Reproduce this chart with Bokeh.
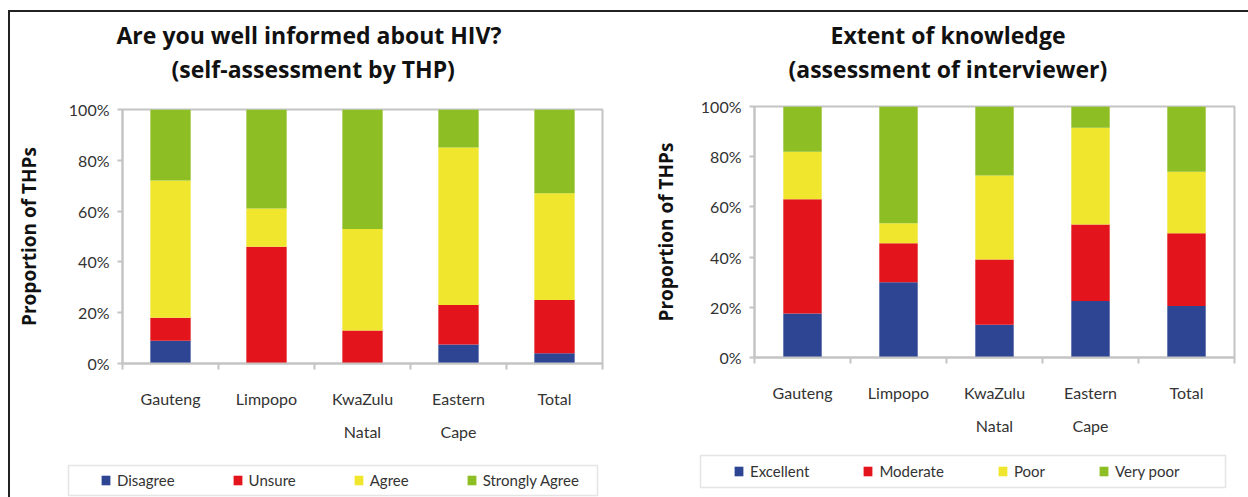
from bokeh.plotting import figure
from bokeh.layouts import row, column
from bokeh.models import (ColumnDataSource, Range1d, LinearAxis, FixedTicker, NumeralTickFormatter,
                          Legend, LegendItem, Title, Spacer, BoxAnnotation)
from bokeh.embed import file_html
from bokeh.resources import INLINE

# ---------------- data ----------------
regions = ["Gauteng", "Limpopo", "KwaZulu Natal", "Eastern Cape", "Total"]
region_line1 = ["Gauteng", "Limpopo", "KwaZulu", "Eastern", "Total"]
region_line2 = ["", "", "Natal", "Cape", ""]
y_ticks = [0.0, 0.2, 0.4, 0.6, 0.8, 1.0]

# Left chart: self-assessment by THP
informed_names = ["Disagree", "Unsure", "Agree", "Strongly Agree"]
disagree = [0.09, 0.0, 0.0, 0.075, 0.04]
unsure = [0.09, 0.46, 0.13, 0.155, 0.21]
agree = [0.54, 0.15, 0.40, 0.62, 0.42]
strongly_agree = [0.28, 0.39, 0.47, 0.15, 0.33]

# Right chart: assessment of interviewer
knowledge_names = ["Excellent", "Moderate", "Poor", "Very poor"]
excellent = [0.175, 0.30, 0.13, 0.225, 0.205]
moderate = [0.455, 0.155, 0.26, 0.305, 0.29]
poor = [0.19, 0.08, 0.335, 0.385, 0.245]
very_poor = [0.18, 0.465, 0.275, 0.085, 0.26]

colors = ["#2E4594", "#E3141B", "#F0E62D", "#8DBE23"]

TICK_FONT = "Lato"
TITLE_FONT = "Open Sans"
GREY = "#c4c4c4"

# category slot centres (one unit per region)
slot_centres = [i + 0.5 for i in range(len(regions))]
slot_edges = [float(i) for i in range(len(regions) + 1)]


def make_source(names, series):
    data = {"pos": slot_centres, "region": regions}
    for n, v in zip(names, series):
        data[n] = v
    return ColumnDataSource(data)


def build_chart(title_lines, title_offsets, gap, names, series, w, h, bl, bt, br, bb, bar_width,
                ylab_standoff, s1, s2):
    src = make_source(names, series)

    p = figure(x_range=Range1d(0, len(regions)), y_range=Range1d(0, 1),
               width=w, height=h, output_backend="svg", toolbar_location=None,
               x_axis_location=None, y_axis_location="left",
               min_border_left=bl, min_border_top=bt, min_border_right=br, min_border_bottom=bb,
               outline_line_color=GREY, outline_line_width=2,
               background_fill_color="white", border_fill_color="white")
    p.grid.visible = False

    p.vbar_stack(names, x="pos", width=bar_width, color=colors, line_color=None, source=src)

    # y axis
    ya = p.yaxis[0]
    ya.ticker = FixedTicker(ticks=y_ticks)
    ya.formatter = NumeralTickFormatter(format="0%")
    ya.axis_line_color = GREY
    ya.axis_line_width = 2
    ya.major_tick_line_color = GREY
    ya.major_tick_line_width = 2
    ya.major_tick_in = 0
    ya.major_tick_out = 5
    ya.minor_tick_line_color = None
    ya.major_label_text_font = TICK_FONT
    ya.major_label_text_font_size = "16px"
    ya.major_label_text_color = "#333333"
    ya.major_label_standoff = 8
    ya.axis_label = "Proportion of THPs"
    ya.axis_label_text_font = TITLE_FONT
    ya.axis_label_text_font_style = "bold"
    ya.axis_label_text_font_size = "19px"
    ya.axis_label_text_color = "#111111"
    ya.axis_label_standoff = ylab_standoff

    # x axis: boundary ticks
    ax_ticks = LinearAxis(ticker=FixedTicker(ticks=slot_edges),
                          major_label_overrides={e: "" for e in slot_edges},
                          axis_line_color=GREY, axis_line_width=2,
                          major_tick_line_color=GREY, major_tick_line_width=2,
                          major_tick_in=0, major_tick_out=6, minor_tick_line_color=None,
                          major_label_standoff=0, major_label_text_font_size="1px")
    p.add_layout(ax_ticks, "below")

    for labels, sd in ((region_line1, s1), (region_line2, s2)):
        ax = LinearAxis(ticker=FixedTicker(ticks=slot_centres),
                        major_label_overrides=dict(zip(slot_centres, labels)),
                        axis_line_color=None, major_tick_line_color=None,
                        major_tick_in=0, major_tick_out=0, minor_tick_line_color=None,
                        major_label_standoff=sd, major_label_text_font=TICK_FONT,
                        major_label_text_font_size="16px", major_label_text_color="#333333")
        p.add_layout(ax, "below")

    # titles: spacer, second line, first line (stacked upward from the frame)
    p.add_layout(Title(text=" ", text_font_size="4px", standoff=gap), "above")
    for txt, off in zip(reversed(title_lines), reversed(title_offsets)):
        p.add_layout(Title(text=txt, align="left", offset=off, standoff=0, text_font=TITLE_FONT,
                           text_font_style="bold", text_font_size="23px", text_color="#111111"),
                     "above")
    return p


def build_legend(names, series, bar_width, w, h, box, loc, spacing):
    # separate strip holding the legend; its key renderers are hidden (out of view, invisible)
    lp = figure(x_range=Range1d(0, len(regions)), y_range=Range1d(10, 11), width=w, height=h,
                output_backend="svg", toolbar_location=None,
                x_axis_location=None, y_axis_location=None,
                min_border_left=0, min_border_right=0, min_border_top=0, min_border_bottom=0,
                outline_line_color=None, background_fill_color="white", border_fill_color="white")
    lp.grid.visible = False
    rs = lp.vbar_stack(names, x="pos", width=bar_width, color=colors, line_color=None,
                       source=make_source(names, series), visible=False)
    items = [LegendItem(label=n, renderers=[r]) for n, r in zip(names, rs)]
    bx0, bx1, by0, by1 = box
    lp.add_layout(BoxAnnotation(left=bx0, right=bx1, bottom=by0, top=by1,
                                left_units="screen", right_units="screen",
                                bottom_units="screen", top_units="screen",
                                fill_alpha=0, line_color="#a8a8a8", line_width=1.5))
    leg = Legend(items=items, orientation="horizontal", location=loc,
                 glyph_width=11, glyph_height=12, label_standoff=6, label_height=16,
                 spacing=spacing, padding=0, margin=0, inactive_fill_alpha=0,
                 label_text_font=TICK_FONT, label_text_font_size="15px", label_text_color="#333333",
                 border_line_color=None, background_fill_alpha=0)
    lp.add_layout(leg, "center")
    return lp


left_series = [disagree, unsure, agree, strongly_agree]
right_series = [excellent, moderate, poor, very_poor]

p1 = build_chart(["Are you well informed about HIV?", "(self-assessment by THP)"], [-6, 49], 18,
                 informed_names, left_series,
                 w=614, h=437, bl=112, bt=97, br=22, bb=86, bar_width=0.42, ylab_standoff=24,
                 s1=19, s2=11)
l1 = build_legend(informed_names, left_series, 0.42, 614, 48, (58, 587, 2, 32), (90, 8), 57)

p2 = build_chart(["Extent of knowledge", "(assessment of interviewer)"], [76, 34], 15,
                 knowledge_names, right_series,
                 w=624, h=437, bl=130, bt=94, br=14, bb=92, bar_width=0.40, ylab_standoff=19,
                 s1=19, s2=11)
l2 = build_legend(knowledge_names, right_series, 0.40, 624, 48, (76, 601, 10, 42), (109, 17), 53)

dark = {"background-color": "#222222"}
layout = column(
    Spacer(width=1248, height=10),
    row(Spacer(width=8, height=487),
        column(Spacer(width=1240, height=2, styles=dark),
               row(Spacer(width=2, height=485, styles=dark),
                   column(p1, column(l1)), column(p2, column(l2))))))
open("out.html", "w").write(file_html(layout, INLINE))
